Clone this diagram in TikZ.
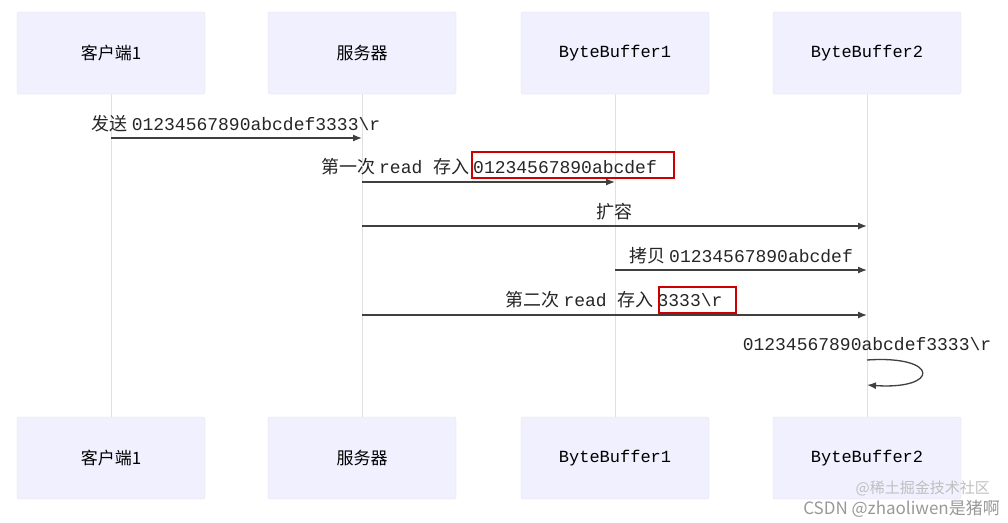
\documentclass[tikz,border=0pt]{standalone}
\usepackage{fontspec}
\setmainfont{Noto Sans CJK SC}
\setmonofont{Liberation Mono}
\newfontfamily\cjk{Noto Sans CJK SC}
\begin{document}
\begin{tikzpicture}[x=1pt,y=-1pt,
  actor/.style={draw=black!10,fill=blue!6!white,rounded corners=2pt,minimum width=188pt,minimum height=82pt,font=\fontsize{17}{20}\selectfont},
  life/.style={draw=black!12,line width=1pt},
  msg/.style={draw=black!75,line width=1.3pt,-{Latex[length=9pt,width=7pt]}},
  lbl/.style={font=\fontsize{18}{20}\selectfont,text=black!85,inner sep=1pt},
  hl/.style={draw=red!80!black,line width=1.5pt}]
\usetikzlibrary{arrows.meta}
\useasboundingbox (0,0) rectangle (1008,522);
\fill[white] (0,0) rectangle (1008,522);
\foreach \n/\x/\t in {a/111/{\cjk 客户端1},b/362/{\cjk 服务器},c/615/{\ttfamily ByteBuffer1},d/867/{\ttfamily ByteBuffer2}}{
  \draw[life] (\x,94) -- (\x,417);
  \node[actor] (\n t) at (\x,53) {\t};
  \node[actor] (\n b) at (\x,458) {\t};
  \coordinate (\n) at (\x,0);
}
\coordinate (m1a) at (111,138); \coordinate (m1b) at (362,138);
\draw[msg] (m1a) -- (m1b);
\node[lbl] (l1) at (236,124) {\cjk 发送 \ttfamily 01234567890abcdef3333\textbackslash r};
\coordinate (m2a) at (362,182); \coordinate (m2b) at (615,182);
\draw[msg] (m2a) -- (m2b);
\node[lbl] (l2) at (489,167) {\cjk 第一次 \ttfamily read \cjk 存入 \ttfamily 01234567890abcdef};
\draw[hl] (472,152) rectangle (674,178);
\coordinate (m3a) at (362,226); \coordinate (m3b) at (867,226);
\draw[msg] (m3a) -- (m3b);
\node[lbl] (l3) at (614,212) {\cjk 扩容};
\coordinate (m4a) at (615,270); \coordinate (m4b) at (867,270);
\draw[msg] (m4a) -- (m4b);
\node[lbl] (l4) at (741,256) {\cjk 拷贝 \ttfamily 01234567890abcdef};
\coordinate (m5a) at (362,315); \coordinate (m5b) at (867,315);
\draw[msg] (m5a) -- (m5b);
\node[lbl] (l5) at (614,300) {\cjk 第二次 \ttfamily read \cjk 存入 \ttfamily 3333\textbackslash r};
\draw[hl] (659,287) rectangle (736,313);
\node[lbl] (l6) at (867,344) {\ttfamily 01234567890abcdef3333\textbackslash r};
\coordinate (s1) at (867,360); \coordinate (s2) at (867,385);
\draw[msg] (s1) .. controls (940,355) and (940,390) .. (s2);
\node[font=\fontsize{15}{18}\selectfont,text=black!25,anchor=east,inner sep=0pt] (w1) at (990,488) {@稀土掘金技术社区};
\node[font=\fontsize{17}{20}\selectfont,text=black!40,anchor=east,inner sep=0pt] (w2) at (1000,509) {CSDN @zhaoliwen是猪啊};
\end{tikzpicture}
\end{document}
